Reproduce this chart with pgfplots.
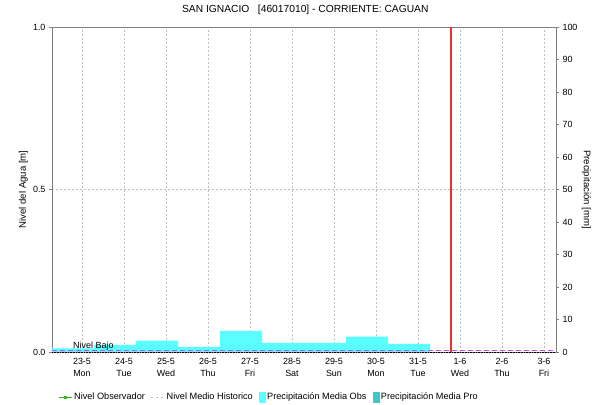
\documentclass[border=0pt]{standalone}
\usepackage{pgfplots}
\pgfplotsset{compat=1.18}
\usepackage{fontspec}
\setmainfont{Liberation Sans}
\definecolor{obs}{RGB}{90,255,255}
\definecolor{pro}{RGB}{64,200,200}
\definecolor{axgray}{RGB}{128,128,128}
\definecolor{magline}{RGB}{200,80,230}
\definecolor{gridgray}{RGB}{190,190,190}
\definecolor{obsgreen}{RGB}{60,180,30}
\definecolor{nowred}{RGB}{230,50,50}
\begin{document}
\begin{tikzpicture}[font=\fontsize{9}{12}\selectfont]
\pgfplotsset{
  common/.style={
    at={(0,0)}, anchor=south west,
    scale only axis, width=504bp, height=325bp,
    xmin=-0.714, xmax=11.286,
    /pgf/number format/assume math mode=true,
    tick align=outside, major tick length=3bp,
    every tick/.style={axgray},
    axis line style={axgray},
    tick label style={font=\fontsize{9}{12}\selectfont},
    label style={font=\fontsize{9.6}{12}\selectfont},
  }
}
% level axis (left)
\begin{axis}[common,
  ymin=0, ymax=1,
  ytick={0,0.5,1},
  ytick pos=left, xtick pos=bottom,
  yticklabel style={/pgf/number format/fixed, /pgf/number format/fixed zerofill, /pgf/number format/precision=1},
  xtick={0,...,11},
  xticklabels={{23-5\\Mon},{24-5\\Tue},{25-5\\Wed},{26-5\\Thu},{27-5\\Fri},{28-5\\Sat},{29-5\\Sun},{30-5\\Mon},{31-5\\Tue},{1-6\\Wed},{2-6\\Thu},{3-6\\Fri}},
  xticklabel style={align=center},
  xtick style={draw=none},
  xmajorgrids, ymajorgrids,
  grid style={gridgray, line width=0.8bp, dash pattern=on 1.6bp off 2.4bp},
  ylabel={Nivel del Agua [m]},
  ylabel style={at={(axis description cs:-0.0565,0.5)}, anchor=center},
  title={SAN IGNACIO\ \ \ [46017010] - CORRIENTE: CAGUAN},
  title style={at={(axis description cs:0.5026,1)}, anchor=base, yshift=8.5bp, font=\fontsize{10.3}{12}\selectfont},
  legend style={at={(axis description cs:0.4306,-0.1385)}, anchor=center, draw=none, fill=none,
    legend columns=4, font=\fontsize{9.2}{11}\selectfont,
    /tikz/every even column/.append style={column sep=4bp},
    /tikz/every odd column/.append style={column sep=0bp}},
]
\addlegendimage{legend image code/.code={\draw[obsgreen, line width=0.8bp] (0bp,0bp) -- (13bp,0bp); \fill[obsgreen] (5bp,-1.3bp) rectangle (7.6bp,1.3bp);}}
\addlegendentry{Nivel Observador}
\addlegendimage{legend image code/.code={\draw[gridgray, line width=0.8bp, dash pattern=on 2bp off 3bp] (0bp,0bp) -- (13bp,0bp);}}
\addlegendentry{Nivel Medio Historico}
\addlegendimage{legend image code/.code={\fill[obs] (7bp,-5bp) rectangle (13bp,5bp);}}
\addlegendentry{Precipitación Media Obs}
\addlegendimage{legend image code/.code={\fill[pro] (7bp,-5bp) rectangle (13bp,5bp);}}
\addlegendentry{Precipitación Media Pro}
\end{axis}
% precipitation axis (right)
\begin{axis}[common,
  ymin=0, ymax=100,
  axis y line*=right, axis x line=none,
  ytick={0,10,...,100},
  ylabel={Precipitación [mm]},
  ylabel style={at={(axis description cs:1.0605,0.5)}, anchor=center, rotate=180},
  clip=false,
]
\addplot[const plot, fill=obs, draw=none] coordinates {
  (-0.714,1.1) (0.286,2.2) (1.286,3.5) (2.286,1.6) (3.286,6.5)
  (4.286,2.8) (5.286,2.8) (6.286,4.7) (7.286,2.5) (8.286,2.5)} \closedcycle;
\addplot[draw=black, line width=0.8bp, dash pattern=on 0.8bp off 0.8bp] coordinates {(-0.714,0) (11.286,0)};
\addplot[draw=magline, line width=1.1bp, dash pattern=on 5bp off 3bp] coordinates {(-0.714,0.35) (11.286,0.35)};
\addplot[draw=nowred, line width=1.2bp] coordinates {(8.786,0) (8.786,100)};
\node[anchor=base west, inner sep=0pt, font=\fontsize{9}{11}\selectfont] at (axis cs:-0.214,1.0) {Nivel\ Bajo};
\end{axis}
\pgfresetboundingbox
\path[use as bounding box] (-52bp,-53bp) rectangle (543bp,352bp);
\end{tikzpicture}
\end{document}
